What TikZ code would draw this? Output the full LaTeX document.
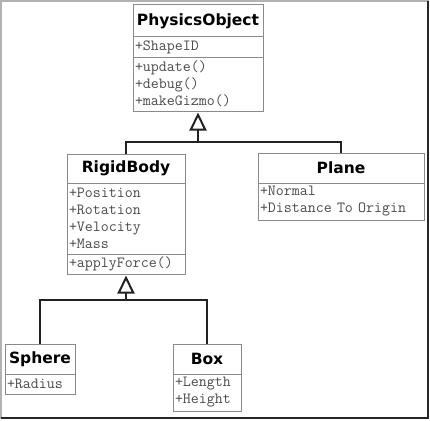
\documentclass[tikz,border=0pt]{standalone}
\usepackage{fontspec}
\usetikzlibrary{positioning,arrows.meta}
\newfontfamily\clsfont{DejaVu Sans}
\definecolor{boxgray}{HTML}{8A8A8A}
\definecolor{attgray}{HTML}{4A4A4A}
\definecolor{linedark}{HTML}{222222}

\begin{document}
\begin{tikzpicture}[x=1pt,y=-1pt,
  clsname/.style={draw=boxgray,line width=1pt,fill=white,outer sep=0pt,inner sep=0pt,
    minimum height=30pt,font=\clsfont\bfseries\fontsize{15.5}{18}\selectfont,anchor=north west},
  clsbody/.style={draw=boxgray,line width=1pt,fill=white,outer sep=0pt,inner xsep=2pt,
    inner ysep=0pt,align=left,text=attgray,font=\ttfamily\fontsize{15.5}{17}\selectfont,
    minimum height=#1*17pt+3pt},
  inherit/.style={draw=linedark,line width=2pt},
  isa/.style={inherit,shorten >=1.5pt,-{Triangle[open,length=18pt,width=17pt]}}]
  \useasboundingbox (0,0) rectangle (430,420);
  % frame
  \draw[gray!60,line width=1.5pt] (1,419) -- (1,1) -- (429,1);
  \draw[black!85,line width=2pt] (428,1) -- (428,418) -- (1,418);
  % classes
  \node[clsname,minimum width=130pt,minimum height=32pt] (physics) at (133,5) {PhysicsObject};
  \node[clsbody=1,text width=126pt,below=0pt of physics] (physicsatt) {+ShapeID};
  \node[clsbody=3,text width=126pt,below=0pt of physicsatt] (physicsops)
  {+update()\\+debug()\\+makeGizmo()};
  \node[clsname,minimum width=118pt,minimum height=29pt] (rigid) at (67,154) {RigidBody};
  \node[clsbody=4,text width=114pt,below=0pt of rigid] (rigidatt)
  {+Position\\+Rotation\\+Velocity\\+Mass};
  \node[clsbody=1,text width=114pt,below=0pt of rigidatt] (rigidops) {+applyForce()};
  \node[clsname,minimum width=166pt] (plane) at (258,153) {Plane};
  \node[clsbody=2,text width=162pt,below=0pt of plane] (planeatt)
  {+Normal\\+Distance To Origin};
  \node[clsname,minimum width=70pt] (sphere) at (5,344) {Sphere};
  \node[clsbody=1,text width=66pt,below=0pt of sphere] (sphereatt) {+Radius};
  \node[clsname,minimum width=68pt] (box) at (173,344) {Box};
  \node[clsbody=2,text width=64pt,below=0pt of box] (boxatt) {+Length\\+Height};
  % inheritance
  \coordinate[below=31pt of physicsops] (join1);
  \coordinate[below=26pt of rigidops] (join2);
  \draw[inherit] (rigid.north) |- (join1) -| (plane.north);
  \draw[isa] (join1) -- (physicsops.south);
  \draw[inherit] (sphere.north) |- (join2) -| (box.north);
  \draw[isa] (join2) -- (rigidops.south);
\end{tikzpicture}
\end{document}
